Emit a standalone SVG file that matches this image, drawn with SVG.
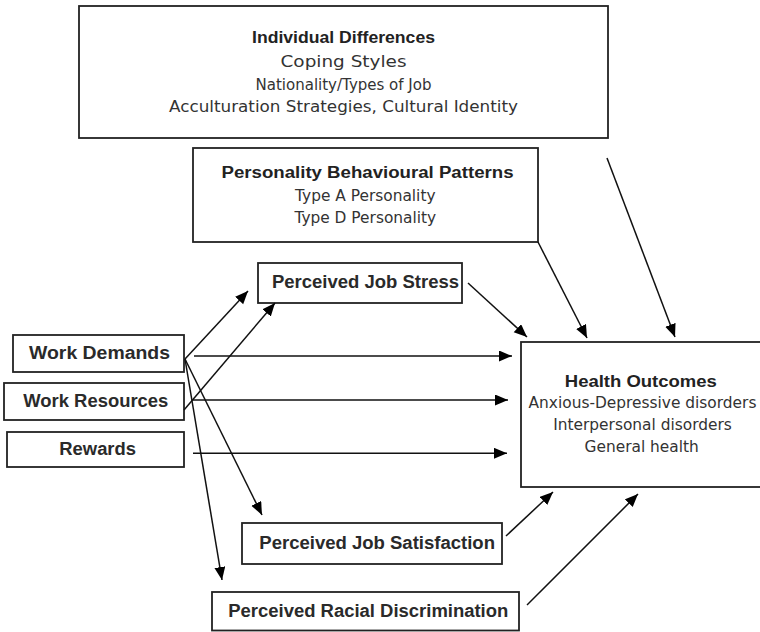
<svg xmlns="http://www.w3.org/2000/svg" width="760" height="632" viewBox="0 0 760 632">
<defs>
<style>
.box{fill:#fff;stroke:#222;stroke-width:1.8}
.hb{font-family:"Liberation Sans",Arial,sans-serif;font-weight:bold;font-size:16px;fill:#222;text-anchor:middle}
.lb{font-family:"Liberation Sans",Arial,sans-serif;font-weight:bold;font-size:17.5px;fill:#2a2a2a}
.rg{font-family:"DejaVu Sans",Verdana,sans-serif;font-size:15.4px;fill:#333;text-anchor:middle}
.rt{font-family:"DejaVu Sans",Verdana,sans-serif;font-size:16px;fill:#333;text-anchor:middle}
.cn line{stroke:#111;stroke-width:1.5;fill:none;marker-end:url(#ah)}
</style>
<marker id="ah" markerUnits="userSpaceOnUse" markerWidth="14" markerHeight="12" refX="13" refY="5.5" orient="auto">
<path d="M0,0 L13,5.5 L0,11 Z" fill="#000"/>
</marker>
</defs>
<rect width="760" height="632" fill="#fff"/>

<g id="individual-differences">
<rect class="box" x="79" y="6" width="529" height="132"/>
<text class="hb" x="343.5" y="43" textLength="183" lengthAdjust="spacingAndGlyphs">Individual Differences</text>
<text class="rt" x="343.5" y="67" textLength="126" lengthAdjust="spacingAndGlyphs">Coping Styles</text>
<text class="rt" x="343.5" y="89.5" textLength="176" lengthAdjust="spacingAndGlyphs">Nationality/Types of Job</text>
<text class="rt" x="343.5" y="112" textLength="349" lengthAdjust="spacingAndGlyphs">Acculturation Strategies, Cultural Identity</text>
</g>

<g id="personality">
<rect class="box" x="193" y="148" width="345" height="94"/>
<text class="hb" x="367.5" y="177.7" textLength="292" lengthAdjust="spacingAndGlyphs">Personality Behavioural Patterns</text>
<text class="rg" x="365.3" y="201">Type A Personality</text>
<text class="rg" x="365.3" y="222.7">Type D Personality</text>
</g>

<g id="job-stress">
<rect class="box" x="258" y="263" width="204" height="40"/>
<text class="lb" x="272" y="288.3" textLength="187" lengthAdjust="spacingAndGlyphs">Perceived Job Stress</text>
</g>

<g id="work-demands">
<rect class="box" x="13" y="335" width="171" height="37"/>
<text class="lb" x="29" y="359.3" textLength="141" lengthAdjust="spacingAndGlyphs">Work Demands</text>
</g>

<g id="work-resources">
<rect class="box" x="4" y="383" width="180" height="37"/>
<text class="lb" x="23.3" y="407.3" textLength="145" lengthAdjust="spacingAndGlyphs">Work Resources</text>
</g>

<g id="rewards">
<rect class="box" x="7" y="432" width="177" height="35"/>
<text class="lb" x="59.3" y="455" textLength="76.7" lengthAdjust="spacingAndGlyphs">Rewards</text>
</g>

<g id="health-outcomes">
<rect class="box" x="521" y="342" width="245" height="145"/>
<text class="hb" x="640.8" y="386.7" textLength="152" lengthAdjust="spacingAndGlyphs">Health Outcomes</text>
<text class="rg" x="642.5" y="408.3">Anxious-Depressive disorders</text>
<text class="rg" x="642.5" y="430">Interpersonal disorders</text>
<text class="rg" x="641.7" y="452">General health</text>
</g>

<g id="job-satisfaction">
<rect class="box" x="242" y="523" width="260" height="41"/>
<text class="lb" x="259.3" y="549.3" textLength="235.7" lengthAdjust="spacingAndGlyphs">Perceived Job Satisfaction</text>
</g>

<g id="racial-discrimination">
<rect class="box" x="212" y="592" width="307" height="38.5"/>
<text class="lb" x="228.3" y="616.7" textLength="280" lengthAdjust="spacingAndGlyphs">Perceived Racial Discrimination</text>
</g>

<g id="connectors" class="cn">
<line x1="185" y1="359" x2="248" y2="291"/>
<line x1="184" y1="410" x2="275" y2="303"/>
<line x1="194" y1="356" x2="512" y2="356"/>
<line x1="193" y1="400" x2="508" y2="400"/>
<line x1="193" y1="453.3" x2="507" y2="453.3"/>
<line x1="468" y1="283" x2="527" y2="337"/>
<line x1="538" y1="242" x2="587" y2="338"/>
<line x1="607" y1="158" x2="675" y2="337"/>
<line x1="185" y1="359" x2="262" y2="515"/>
<line x1="185" y1="359" x2="222" y2="580"/>
<line x1="506" y1="536" x2="553" y2="492"/>
<line x1="527" y1="605" x2="638" y2="494"/>
</g>
</svg>
